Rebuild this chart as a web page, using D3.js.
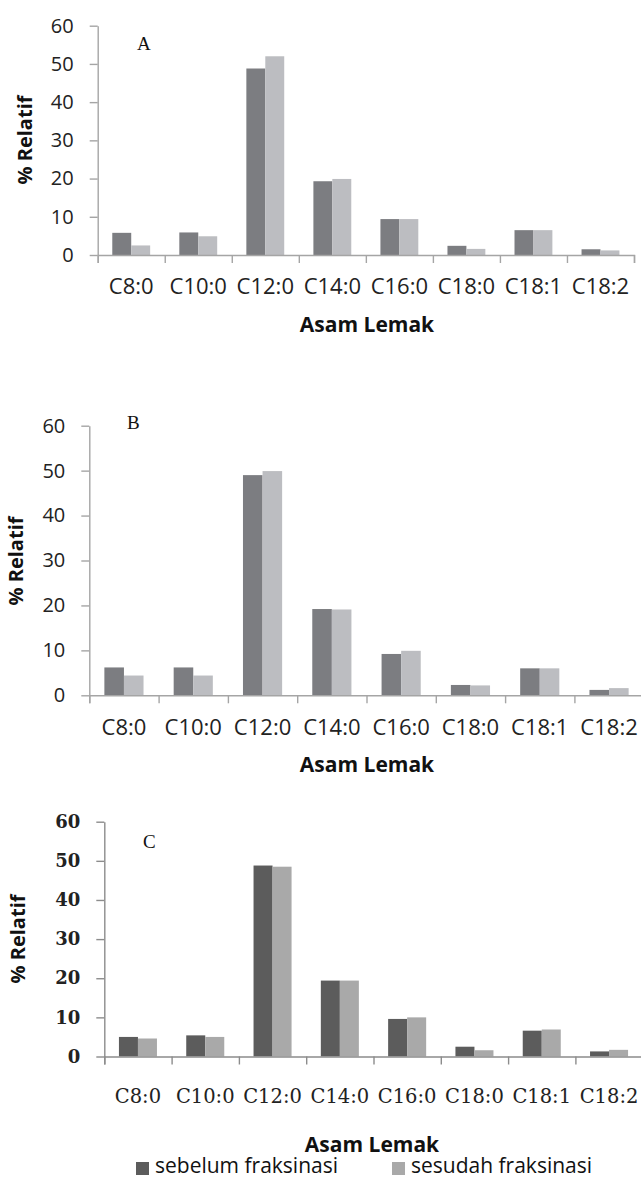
<!DOCTYPE html>
<html>
<head>
<meta charset="utf-8">
<script src="https://cdn.jsdelivr.net/npm/d3@7"></script>
<style>
  body { margin: 0; background: #fff; }
  svg { display: block; }
</style>
</head>
<body>
<div id="chart"></div>
<script>
// data
var categories = ["C8:0", "C10:0", "C12:0", "C14:0", "C16:0", "C18:0", "C18:1", "C18:2"];
var yTicks = [0, 10, 20, 30, 40, 50, 60];
var seriesNames = ["sebelum fraksinasi", "sesudah fraksinasi"];

var sebelumA = [5.8, 5.9, 48.8, 19.3, 9.4, 2.4, 6.5, 1.5];
var sesudahA = [2.5, 4.9, 52.0, 19.9, 9.4, 1.6, 6.5, 1.2];

var sebelumB = [6.2, 6.2, 49.0, 19.2, 9.2, 2.3, 6.0, 1.2];
var sesudahB = [4.4, 4.4, 49.9, 19.1, 9.9, 2.2, 6.0, 1.6];

var sebelumC = [5.0, 5.4, 48.8, 19.4, 9.6, 2.5, 6.6, 1.3];
var sesudahC = [4.6, 5.0, 48.5, 19.4, 10.0, 1.6, 6.9, 1.7];

var chart = {
  svg: null,
  init: function(){
    chart.svg = d3.select("#chart").append("svg")
                  .attr("width", 641)
                  .attr("height", 1178);
    chart.svg.append("rect")
             .attr("width", 641).attr("height", 1178)
             .attr("fill", "#fff");
  },
  panel: function(o){
    var svg = chart.svg;
    var g = svg.append("g");

    var y = d3.scaleLinear().domain([0, 60]).range([o.y0, o.y60]);
    var x = d3.scaleBand().domain(categories).range([o.x0, o.x1]);
    var edges = d3.scaleLinear().domain([0, categories.length]).range([o.x0, o.x1]);
    var bw = x.bandwidth();
    var inner = d3.scaleBand().domain([0, 1]).range([bw*0.2175, bw*0.7825]);

    // bars
    var rows = categories.map(function(c, i){ return {cat: c, v: [o.before[i], o.after[i]]}; });
    g.selectAll("g.grp")
     .data(rows)
     .enter().append("g")
     .attr("class", "grp")
     .attr("transform", function(d){ return "translate(" + x(d.cat) + ",0)"; })
     .selectAll("rect")
     .data(function(d){ return d.v; })
     .enter().append("rect")
     .attr("x", function(d, i){ return inner(i); })
     .attr("width", inner.bandwidth())
     .attr("y", function(d){ return y(d); })
     .attr("height", function(d){ return y(0) - y(d); })
     .attr("fill", function(d, i){ return o.colors[i]; });

    // y axis
    var ya = g.append("g")
              .attr("transform", "translate(" + o.x0 + ",0)")
              .call(d3.axisLeft(y).tickValues(yTicks).tickSize(8).tickSizeOuter(0).tickPadding(o.tickPad));
    ya.selectAll("path, line").attr("stroke", o.axisColor).attr("stroke-width", 1.4);
    ya.selectAll("text")
      .attr("fill", "#222")
      .style("font-family", o.tickFont)
      .style("font-size", o.tickSize + "px")
      .style("font-weight", o.tickWeight);

    // x axis, ticks between categories
    var xa = g.append("g")
              .attr("transform", "translate(0," + o.y0 + ")")
              .call(d3.axisBottom(edges).ticks(categories.length).tickSize(8).tickSizeOuter(8).tickFormat(""));
    xa.selectAll("path, line").attr("stroke", o.axisColor).attr("stroke-width", 1.4);

    g.selectAll("text.cat")
     .data(categories)
     .enter().append("text")
     .attr("class", "cat")
     .attr("x", function(d){ return x(d) + bw/2; })
     .attr("y", o.catY)
     .attr("text-anchor", "middle")
     .attr("fill", "#222")
     .style("font-family", o.catFont)
     .style("font-size", o.catSize + "px")
     .text(function(d){ return d; });

    // titles
    g.append("text")
     .attr("x", o.titleX).attr("y", o.titleY)
     .attr("text-anchor", "middle")
     .attr("fill", "#111")
     .style("font-family", "'Open Sans'")
     .style("font-weight", "bold")
     .style("font-size", "21px")
     .text("Asam Lemak");

    g.append("text")
     .attr("transform", "translate(" + o.yTitleX + "," + o.yTitleY + ") rotate(-90)")
     .attr("text-anchor", "middle")
     .attr("dy", "0.35em")
     .attr("fill", "#111")
     .style("font-family", "'Open Sans'")
     .style("font-weight", "bold")
     .style("font-size", "20px")
     .text("% Relatif");

    g.append("text")
     .attr("x", o.letterX).attr("y", o.letterY)
     .attr("fill", "#111")
     .style("font-family", "'Liberation Serif'")
     .style("font-size", "19px")
     .text(o.letter);
  },
  legend: function(colors, top){
    var items = [{x: 136, label: seriesNames[0]}, {x: 392, label: seriesNames[1]}];
    var lg = chart.svg.append("g");
    var it = lg.selectAll("g")
               .data(items)
               .enter().append("g")
               .attr("transform", function(d){ return "translate(" + d.x + "," + top + ")"; });
    it.append("rect")
      .attr("width", 13).attr("height", 13)
      .attr("fill", function(d, i){ return colors[i]; });
    it.append("text")
      .attr("x", 19).attr("y", 11)
      .attr("fill", "#111")
      .style("font-family", "'Open Sans'")
      .style("font-size", "21px")
      .text(function(d){ return d.label; });
  }
};

chart.init();

chart.panel({
  letter: "A", before: sebelumA, after: sesudahA,
  x0: 97.7, x1: 634, y0: 255, y60: 25.7,
  colors: ["#7c7d81", "#bcbdc1"], axisColor: "#a5a5a5",
  tickFont: "'Open Sans'", tickSize: 20, tickWeight: "normal", tickPad: 16,
  catFont: "'Open Sans'", catSize: 22, catY: 294,
  titleX: 367, titleY: 332, yTitleX: 25, yTitleY: 140,
  letterX: 137, letterY: 50
});

chart.panel({
  letter: "B", before: sebelumB, after: sesudahB,
  x0: 89.3, x1: 643.7, y0: 695.3, y60: 425.7,
  colors: ["#7c7d81", "#bcbdc1"], axisColor: "#a5a5a5",
  tickFont: "'Open Sans'", tickSize: 20, tickWeight: "normal", tickPad: 16,
  catFont: "'Open Sans'", catSize: 22, catY: 735,
  titleX: 367, titleY: 772, yTitleX: 15.5, yTitleY: 561,
  letterX: 127, letterY: 429
});

chart.panel({
  letter: "C", before: sebelumC, after: sesudahC,
  x0: 104.3, x1: 642.7, y0: 1056.5, y60: 821.7,
  colors: ["#5c5c5c", "#a9a9a9"], axisColor: "#8c8c8c",
  tickFont: "'DejaVu Serif'", tickSize: 18, tickWeight: "bold", tickPad: 16,
  catFont: "'DejaVu Serif'", catSize: 19.5, catY: 1103,
  titleX: 372, titleY: 1152, yTitleX: 18, yTitleY: 939,
  letterX: 143, letterY: 848
});

chart.legend(["#5c5c5c", "#a9a9a9"], 1162);
</script>
</body>
</html>
